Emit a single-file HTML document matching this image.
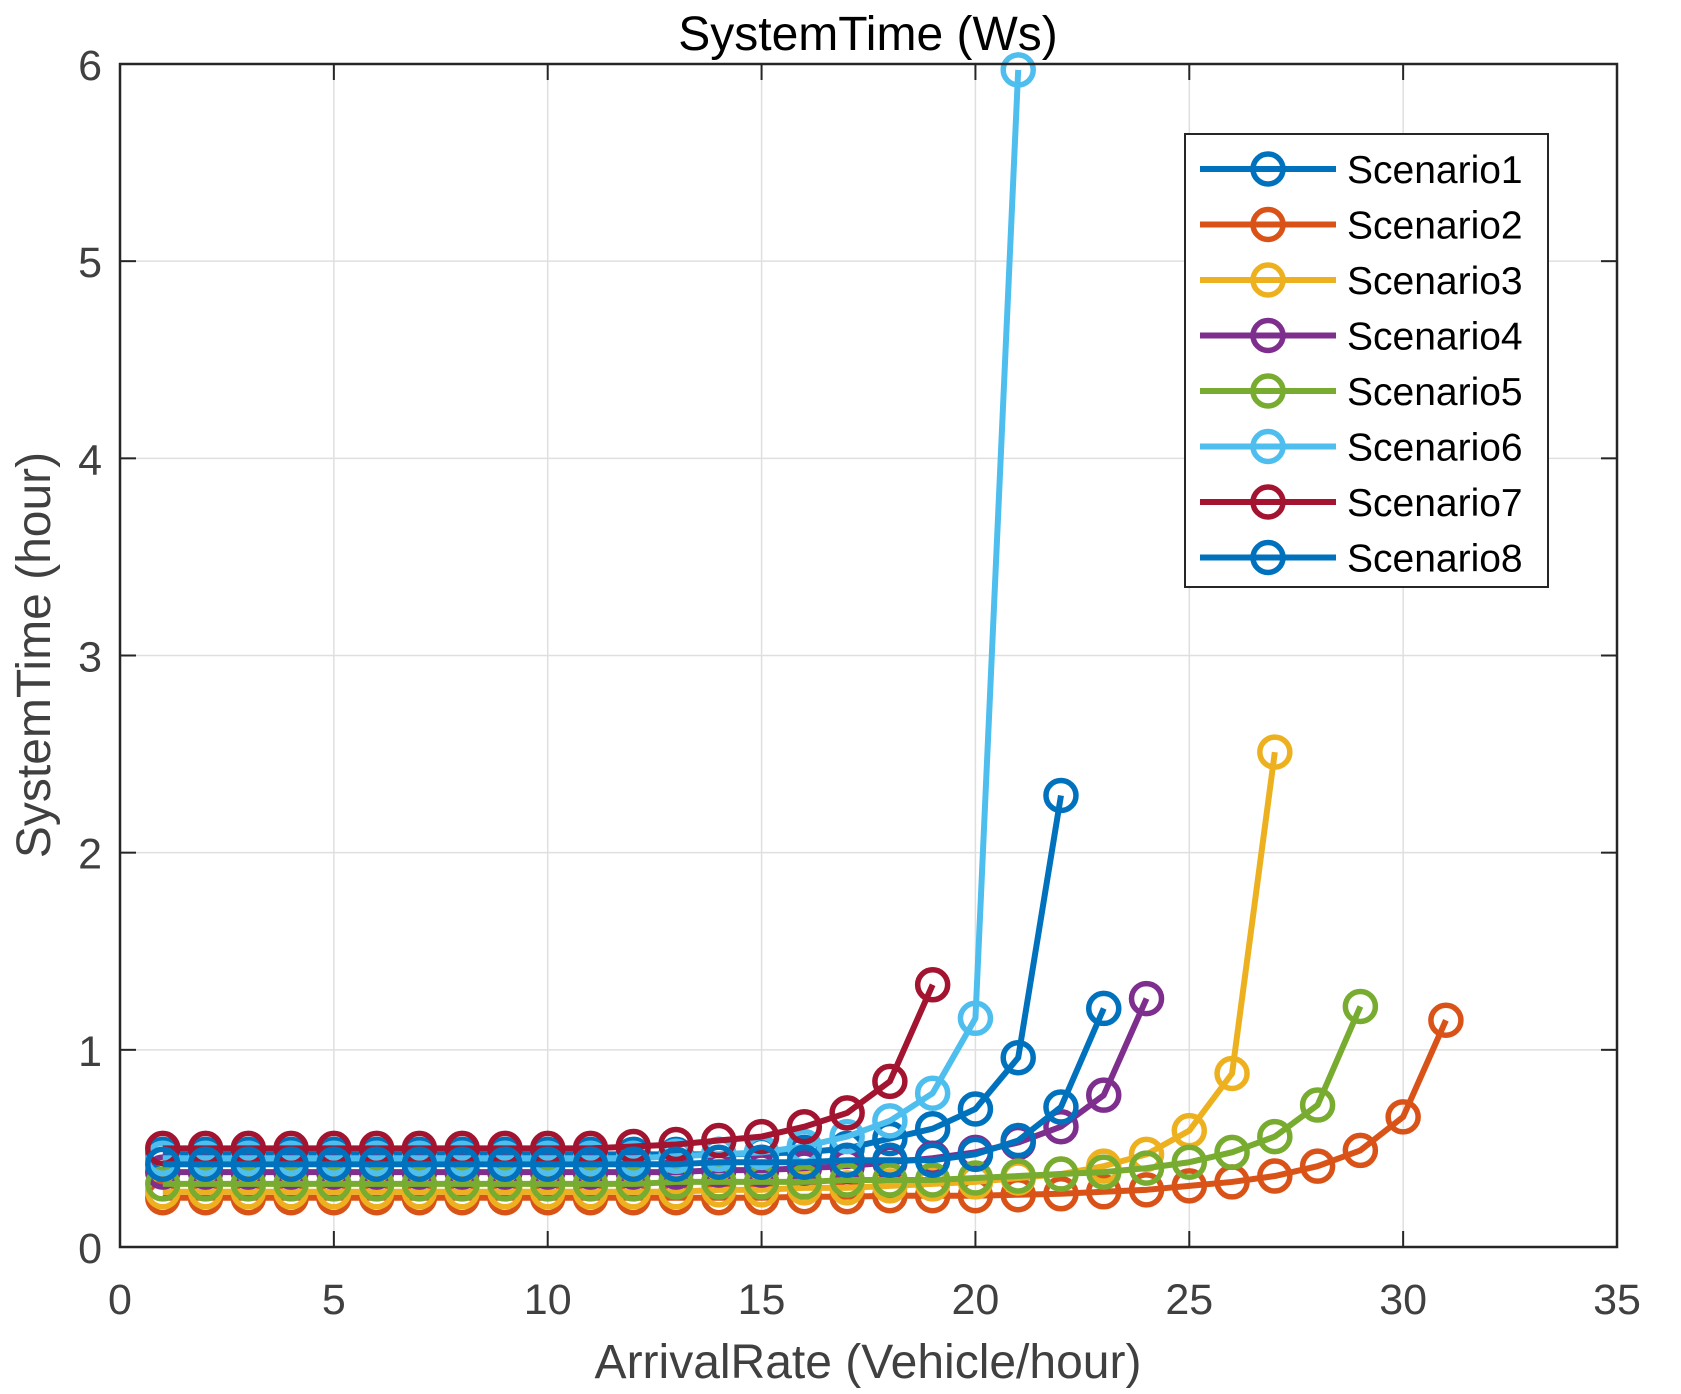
<!DOCTYPE html>
<html><head><meta charset="utf-8"><style>
html,body{margin:0;padding:0;background:#fff;}
svg{display:block;font-family:"Liberation Sans",Arial,sans-serif;}
</style></head><body>
<svg id="chart" width="1681" height="1394" viewBox="0 0 1681 1394" xmlns="http://www.w3.org/2000/svg">
<rect width="1681" height="1394" fill="#fff"/>
<g id="grid"></g>
<g id="series"></g>
<g id="axes"></g>
<text x="868" y="50" font-size="48" text-anchor="middle" fill="#000">SystemTime (Ws)</text>
<text x="868" y="1378" font-size="48" text-anchor="middle" fill="#404040">ArrivalRate (Vehicle/hour)</text>
<text x="0" y="0" font-size="48" text-anchor="middle" fill="#404040" transform="translate(50,655) rotate(-90)">SystemTime (hour)</text>
<g id="legend"></g>
</svg>
<script>
const xTicks=[0,5,10,15,20,25,30,35];
const yTicks=[0,1,2,3,4,5,6];
const seriesNames=["Scenario1","Scenario2","Scenario3","Scenario4","Scenario5","Scenario6","Scenario7","Scenario8"];
const seriesColors=["#0072BD","#D95319","#EDB120","#7E2F8E","#77AC30","#4DBEEE","#A2142F","#0072BD"];
const s1=[0.47,0.47,0.47,0.47,0.47,0.47,0.47,0.47,0.47,0.47,0.47,0.47,0.47,0.47,0.475,0.48,0.5,0.55,0.6,0.7,0.96,2.29];
const s2=[0.25,0.25,0.25,0.25,0.25,0.25,0.25,0.25,0.25,0.25,0.25,0.25,0.25,0.25,0.25,0.255,0.255,0.26,0.26,0.26,0.265,0.27,0.28,0.29,0.31,0.33,0.36,0.41,0.49,0.66,1.15];
const s3=[0.28,0.28,0.28,0.28,0.28,0.28,0.28,0.28,0.28,0.28,0.28,0.28,0.28,0.29,0.29,0.3,0.3,0.31,0.32,0.33,0.35,0.37,0.41,0.47,0.59,0.88,2.51];
const s4=[0.38,0.38,0.38,0.38,0.38,0.38,0.38,0.38,0.38,0.38,0.38,0.38,0.38,0.39,0.39,0.4,0.41,0.43,0.45,0.48,0.53,0.61,0.77,1.26];
const s5=[0.32,0.32,0.32,0.32,0.32,0.32,0.32,0.32,0.32,0.32,0.32,0.32,0.33,0.33,0.33,0.33,0.34,0.34,0.34,0.35,0.36,0.37,0.38,0.4,0.43,0.48,0.56,0.72,1.22];
const s6=[0.45,0.45,0.45,0.45,0.45,0.45,0.45,0.45,0.45,0.45,0.45,0.45,0.46,0.47,0.48,0.51,0.56,0.64,0.78,1.16,5.97];
const s7=[0.5,0.5,0.5,0.5,0.5,0.5,0.5,0.5,0.5,0.5,0.5,0.51,0.52,0.54,0.56,0.61,0.68,0.84,1.33];
const s8=[0.42,0.42,0.42,0.42,0.42,0.42,0.42,0.42,0.42,0.42,0.42,0.42,0.42,0.43,0.43,0.43,0.44,0.44,0.44,0.47,0.54,0.71,1.21];
const seriesValues=[s1,s2,s3,s4,s5,s6,s7,s8];

const L=120,R=1617,T=64,B=1247;
const xs=v=>L+(v-0)/(35-0)*(R-L);
const ys=v=>B-(v-0)/(6-0)*(B-T);
const NS="http://www.w3.org/2000/svg";
function mk(tag,attrs,parent){const e=document.createElementNS(NS,tag);for(const k in attrs)e.setAttribute(k,attrs[k]);parent.appendChild(e);return e;}
const grid=document.getElementById('grid'),axes=document.getElementById('axes'),ser=document.getElementById('series'),leg=document.getElementById('legend');

xTicks.forEach(t=>{
  const g=mk('line',{x1:xs(t),x2:xs(t),y1:T,y2:B,stroke:'#dfdfdf','stroke-width':1.5},grid);
  
  
  mk('line',{x1:xs(t),x2:xs(t),y1:B,y2:B-16,stroke:'#262626','stroke-width':2},axes);
  mk('line',{x1:xs(t),x2:xs(t),y1:T,y2:T+16,stroke:'#262626','stroke-width':2},axes);
  const tx=mk('text',{x:xs(t),y:B+67,'font-size':43,'text-anchor':'middle',fill:'#404040'},axes);
  tx.textContent=t;
  
  
});
yTicks.forEach(t=>{
  const g=mk('line',{x1:L,x2:R,y1:ys(t),y2:ys(t),stroke:'#dfdfdf','stroke-width':1.5},grid);
  
  
  mk('line',{x1:L,x2:L+16,y1:ys(t),y2:ys(t),stroke:'#262626','stroke-width':2},axes);
  mk('line',{x1:R,x2:R-16,y1:ys(t),y2:ys(t),stroke:'#262626','stroke-width':2},axes);
  const tx=mk('text',{x:L-18,y:ys(t)+16,'font-size':43,'text-anchor':'end',fill:'#404040'},axes);
  tx.textContent=t;
  
  
});
const box=mk('rect',{x:L,y:T,width:R-L,height:B-T,fill:'none',stroke:'#262626','stroke-width':2.5},axes);



seriesValues.forEach((vals,i)=>{
  const g=mk('g',{},ser);
  
  
  const pts=vals.map((v,j)=>xs(j+1)+','+ys(v)).join(' ');
  const pl=mk('polyline',{points:pts,fill:'none',stroke:seriesColors[i],'stroke-width':6,'stroke-linejoin':'round'},g);
  
  
  vals.forEach((v,j)=>{
    const c=mk('circle',{cx:xs(j+1),cy:ys(v),r:15,fill:'none',stroke:seriesColors[i],'stroke-width':5.5},g);
    
    
  });
});

const lb=mk('rect',{x:1185,y:134,width:363,height:453,fill:'#fff',stroke:'#262626','stroke-width':2},leg);


seriesNames.forEach((n,i)=>{
  const y=169+i*55.5;
  const g=mk('g',{},leg);
  
  
  mk('line',{x1:1200,x2:1336,y1:y,y2:y,stroke:seriesColors[i],'stroke-width':6},g);
  mk('circle',{cx:1268,cy:y,r:15,fill:'none',stroke:seriesColors[i],'stroke-width':5.5},g);
  const t=mk('text',{x:1347,y:y+14,'font-size':39,fill:'#000'},g);
  t.textContent=n;
});
</script>
</body></html>
